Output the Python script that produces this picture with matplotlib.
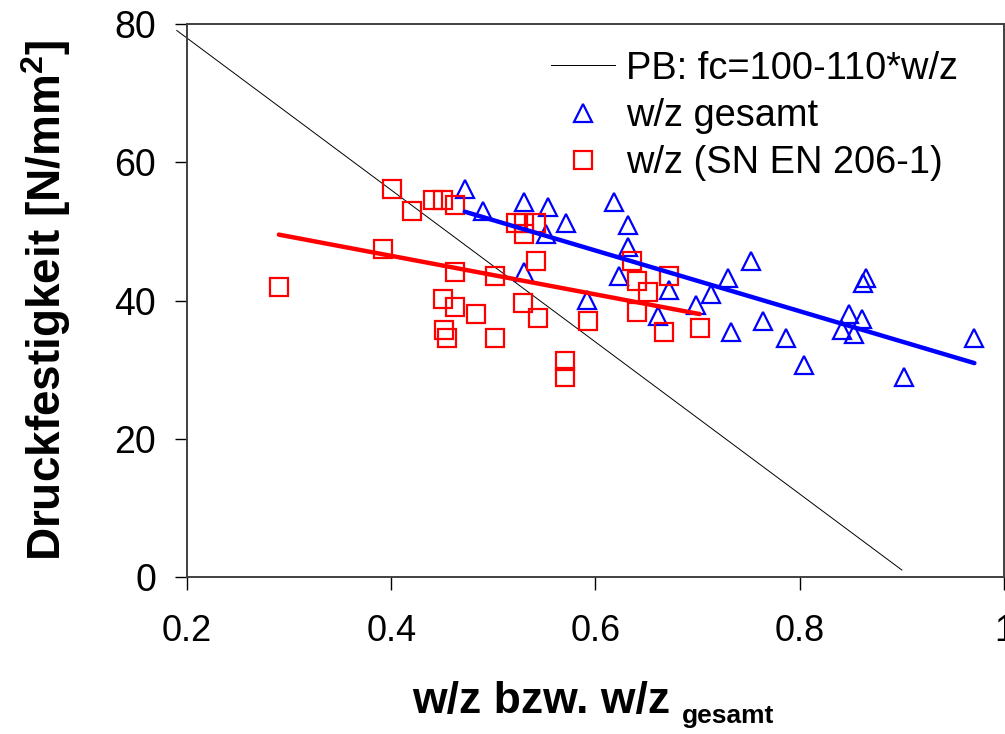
import numpy as np
import matplotlib.pyplot as plt
from matplotlib.ticker import FuncFormatter

plt.rcParams['font.family'] = ['Liberation Sans', 'DejaVu Sans']
plt.rcParams['mathtext.fontset'] = 'custom'
plt.rcParams['mathtext.rm'] = 'Liberation Sans'
plt.rcParams['mathtext.bf'] = 'Liberation Sans:bold'

# w/z gesamt (blue triangles)
wz_ges = [0.472, 0.490, 0.530, 0.554, 0.571, 0.552, 0.530, 0.592, 0.618, 0.632,
          0.632, 0.623, 0.672, 0.661, 0.698, 0.713, 0.730, 0.752, 0.733, 0.764,
          0.787, 0.804, 0.841, 0.848, 0.853, 0.861, 0.865, 0.862, 0.902, 0.971]
fc_ges = [56.1, 52.9, 54.3, 53.6, 51.3, 49.6, 44.1, 40.1, 54.3, 50.9,
          47.7, 43.5, 41.6, 37.8, 39.4, 40.9, 43.3, 45.7, 35.5, 37.0,
          34.6, 30.7, 35.8, 38.0, 35.1, 37.4, 43.3, 42.5, 29.0, 34.6]

# w/z nach SN EN 206-1 (red squares)
wz_sn = [0.290, 0.392, 0.401, 0.420, 0.441, 0.451, 0.462, 0.462, 0.502, 0.451,
         0.462, 0.483, 0.452, 0.455, 0.502, 0.522, 0.530, 0.542, 0.530, 0.542,
         0.529, 0.544, 0.593, 0.570, 0.570, 0.636, 0.641, 0.651, 0.641, 0.672,
         0.667, 0.702]
fc_sn = [42.0, 47.5, 56.2, 53.0, 54.5, 54.5, 53.8, 44.1, 43.5, 40.3,
         39.1, 38.1, 35.7, 34.6, 34.6, 51.3, 51.3, 51.3, 49.6, 45.7,
         39.6, 37.5, 37.1, 31.2, 29.0, 45.8, 42.8, 41.2, 38.3, 43.5,
         35.4, 36.1]

# PB line fc = 100 - 110*w/z
pb_x = [0.19, 0.9]

fig = plt.figure(figsize=(10.05, 7.34), dpi=100)
ax = fig.add_axes([0.186, 0.214, 0.813, 0.753])

ax.plot(pb_x, [100 - 110 * v for v in pb_x], color='black', lw=0.7,
        clip_on=False, label='PB: fc=100-110*w/z')
ax.plot(wz_ges, fc_ges, ls='none', marker='^', ms=13, mfc='none', mec='#0000ff',
        mew=1.6, label='w/z gesamt')
ax.plot(wz_sn, fc_sn, ls='none', marker='s', ms=13, mfc='none', mec='#ff0000',
        mew=1.6, label='w/z (SN EN 206-1)')

# linear fits over the data range
for xs, ys, c in [(wz_ges, fc_ges, '#0000ff'), (wz_sn, fc_sn, '#ff0000')]:
    b, a = np.polyfit(xs, ys, 1)
    xx = np.array([min(xs), max(xs)])
    ax.plot(xx, a + b * xx, color=c, lw=3.2, solid_capstyle='round')

ax.set_xlim(0.2, 1.0)
ax.set_ylim(0, 80)
ax.set_xticks([0.2, 0.4, 0.6, 0.8, 1.0])
ax.set_yticks([0, 20, 40, 60, 80])
ax.xaxis.set_major_formatter(FuncFormatter(lambda v, p: f'{v:g}'))
ax.tick_params(direction='out', length=9, width=1.0)
ax.tick_params(axis='x', labelsize=26, pad=18)
ax.tick_params(axis='y', labelsize=27, pad=13)
for s in ax.spines.values():
    s.set_linewidth(1.4)
    s.set_color('#404040')

ax.set_ylabel(r'Druckfestigkeit [N/mm$^{\mathbf{2}}$]', fontsize=33,
              fontweight='bold', labelpad=30)

# x label: main part + smaller subscript
fig.text(541 / 1005, 1 - 713 / 734, 'w/z bzw. w/z', fontsize=32,
         fontweight='bold', ha='center', va='baseline')
fig.text(682 / 1005, 1 - 723 / 734, 'gesamt', fontsize=19,
         fontweight='bold', ha='left', va='baseline')

ax.legend(loc='upper right', bbox_to_anchor=(0.953, 0.966), frameon=False,
          fontsize=27.4, markerscale=1.0, handlelength=1.68, labelspacing=0.3,
          handletextpad=0.28, borderpad=0.2, borderaxespad=0)

fig.savefig('out.png', dpi=100)
